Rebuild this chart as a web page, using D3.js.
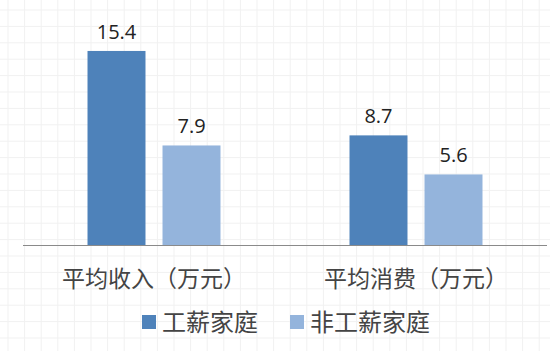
<!DOCTYPE html>
<html>
<head>
<meta charset="utf-8">
<script src="https://cdn.jsdelivr.net/npm/d3@7"></script>
<style>
  body { margin: 0; background: #fff; }
</style>
</head>
<body>
<div id="chart"></div>
<script>
var categories = ["平均收入（万元）", "平均消费（万元）"];
var seriesNames = ["工薪家庭", "非工薪家庭"];
var wageValues = [15.4, 8.7];
var nonWageValues = [7.9, 5.6];
var colors = ["#4e82ba", "#94b4dc"];

var width = 550, height = 351;

var svg = d3.select("#chart")
    .append("svg")
    .attr("width", width)
    .attr("height", height);

// faint paper grid in the background
var grid = svg.append("g").attr("stroke", "#f1f1f1").attr("stroke-width", 1);
grid.selectAll(".gv")
    .data(d3.range(8, width, 16.6))
    .enter().append("line")
    .attr("x1", function(d) { return d; })
    .attr("x2", function(d) { return d; })
    .attr("y1", 0).attr("y2", height);
grid.selectAll(".gh")
    .data(d3.range(10, height, 16.4))
    .enter().append("line")
    .attr("y1", function(d) { return d; })
    .attr("y2", function(d) { return d; })
    .attr("x1", 0).attr("x2", width);

var x0 = d3.scaleBand()
    .domain(categories)
    .range([23, 547])
    .paddingInner(0.4924)
    .paddingOuter(0.2462);

var x1 = d3.scaleBand()
    .domain(seriesNames)
    .range([0, x0.bandwidth()])
    .paddingInner(0.227);

var y = d3.scaleLinear()
    .domain([0, 16])
    .range([245, 43.4]);

var data = categories.map(function(c, i) {
  return { cat: c, values: [wageValues[i], nonWageValues[i]] };
});

var groups = svg.selectAll(".grp")
    .data(data)
    .enter().append("g")
    .attr("transform", function(d) { return "translate(" + x0(d.cat) + ",0)"; });

groups.selectAll("rect")
    .data(function(d) { return d.values.map(function(v, j) { return { s: seriesNames[j], v: v, j: j }; }); })
    .enter().append("rect")
    .attr("x", function(d) { return x1(d.s); })
    .attr("y", function(d) { return y(d.v); })
    .attr("width", x1.bandwidth())
    .attr("height", function(d) { return y(0) - y(d.v); })
    .attr("fill", function(d) { return colors[d.j]; });

groups.selectAll(".val")
    .data(function(d) { return d.values.map(function(v, j) { return { s: seriesNames[j], v: v }; }); })
    .enter().append("text")
    .attr("x", function(d) { return x1(d.s) + x1.bandwidth() / 2; })
    .attr("y", function(d) { return y(d.v) - 12; })
    .attr("text-anchor", "middle")
    .attr("font-family", "'Open Sans', 'Liberation Sans', sans-serif")
    .attr("font-size", 20)
    .attr("fill", "#222")
    .text(function(d) { return d.v.toFixed(1); });

// baseline axis
var xAxis = svg.append("g")
    .attr("transform", "translate(0," + y(0) + ")")
    .call(d3.axisBottom(x0).tickSize(0).tickPadding(34));
xAxis.select(".domain").attr("stroke", "#8a8a8a").attr("d", "M23,0.5H547");
xAxis.selectAll("text")
    .attr("font-family", "'Noto Sans CJK SC', sans-serif")
    .attr("font-size", 23)
    .attr("fill", "#444")
    .attr("dy", "0.35em");

// legend
var legendX = [142, 290];
var legend = svg.selectAll(".leg")
    .data(seriesNames)
    .enter().append("g")
    .attr("transform", function(d, i) { return "translate(" + legendX[i] + ",315)"; });
legend.append("rect")
    .attr("width", 14).attr("height", 14)
    .attr("fill", function(d, i) { return colors[i]; });
legend.append("text")
    .attr("x", 20).attr("y", 16)
    .attr("font-family", "'Noto Sans CJK SC', sans-serif")
    .attr("font-size", 24)
    .attr("fill", "#444")
    .text(function(d) { return d; });
</script>
</body>
</html>
